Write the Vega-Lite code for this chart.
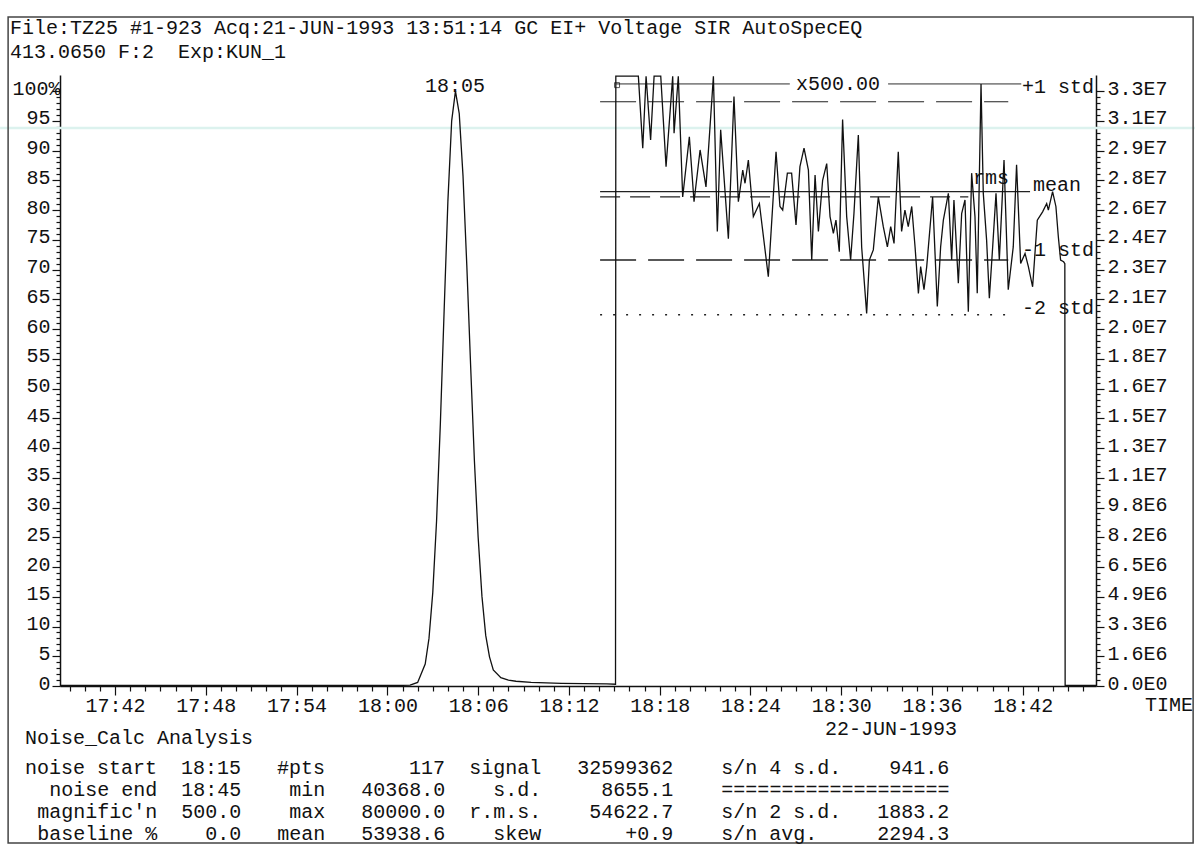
{
  "$schema": "https://vega.github.io/schema/vega-lite/v6.json",
  "width": 1036,
  "height": 611,
  "autosize": {"type": "none"},
  "padding": {"left": 60, "top": 75, "right": 99, "bottom": 159},
  "background": "white",
  "config": {
    "view": {"stroke": null},
    "axis": {"grid": false, "domainColor": "#111", "domainWidth": 1.5, "tickColor": "#111", "tickWidth": 1.2, "labelFont": "Liberation Mono", "labelFontSize": 20, "labelColor": "#111", "labelOverlap": false, "labelFlush": false, "labelBound": false}
  },
  "datasets": {
    "trace": [
      {"t": 1058.4, "v": 0.1}, {"t": 1070, "v": 0.1}, {"t": 1081, "v": 0.1}, {"t": 1081.5, "v": 0.15}, {"t": 1082, "v": 0.6}, {"t": 1082.5, "v": 3.7}, {"t": 1082.75, "v": 8.0}, {"t": 1083, "v": 15.7}, {"t": 1083.25, "v": 27.7}, {"t": 1083.5, "v": 44}, {"t": 1083.75, "v": 63}, {"t": 1084, "v": 81.5}, {"t": 1084.25, "v": 95}, {"t": 1084.5, "v": 100}, {"t": 1084.75, "v": 96.2}, {"t": 1085, "v": 85.7}, {"t": 1085.25, "v": 70.7}, {"t": 1085.5, "v": 54}, {"t": 1085.75, "v": 38}, {"t": 1086, "v": 25}, {"t": 1086.25, "v": 15.1}, {"t": 1086.5, "v": 8.5}, {"t": 1086.75, "v": 4.9}, {"t": 1087, "v": 2.7}, {"t": 1087.5, "v": 1.4}, {"t": 1088, "v": 1.0}, {"t": 1088.5, "v": 0.8}, {"t": 1089.5, "v": 0.6}, {"t": 1091.5, "v": 0.45}, {"t": 1094.5, "v": 0.35}, {"t": 1095.08, "v": 0.3},
      {"t": 1095.1, "v": 102.5}, {"t": 1096.59, "v": 102.5}, {"t": 1096.88, "v": 90.4}, {"t": 1097.1, "v": 102.5}, {"t": 1097.4, "v": 91.8}, {"t": 1097.63, "v": 102.5}, {"t": 1098.07, "v": 102.5}, {"t": 1098.42, "v": 87.3}, {"t": 1098.86, "v": 102.5}, {"t": 1098.95, "v": 92.9}, {"t": 1099.23, "v": 102.5}, {"t": 1099.52, "v": 82.2}, {"t": 1099.96, "v": 92.3}, {"t": 1100.27, "v": 81.4}, {"t": 1100.67, "v": 90.1}, {"t": 1101.06, "v": 83.9}, {"t": 1101.55, "v": 102.5}, {"t": 1101.81, "v": 76.4}, {"t": 1102.03, "v": 93.5}, {"t": 1102.54, "v": 75.2}, {"t": 1102.91, "v": 99.1}, {"t": 1103.2, "v": 81.4}, {"t": 1103.49, "v": 86.7}, {"t": 1103.64, "v": 84.5}, {"t": 1103.86, "v": 88.4}, {"t": 1104.19, "v": 78.9}, {"t": 1104.59, "v": 81.1}, {"t": 1105.18, "v": 68.8}, {"t": 1105.69, "v": 89.8}, {"t": 1105.95, "v": 80.6}, {"t": 1106.13, "v": 80.0}, {"t": 1106.44, "v": 86.2}, {"t": 1106.72, "v": 86.2}, {"t": 1107.01, "v": 77.5}, {"t": 1107.27, "v": 87.3}, {"t": 1107.54, "v": 90.4}, {"t": 1107.83, "v": 86.7}, {"t": 1108.05, "v": 71.6}, {"t": 1108.27, "v": 85.9}, {"t": 1108.49, "v": 76.4}, {"t": 1108.77, "v": 85.0}, {"t": 1109.04, "v": 87.8}, {"t": 1109.26, "v": 78.9}, {"t": 1109.48, "v": 76.1}, {"t": 1109.65, "v": 78.3}, {"t": 1109.87, "v": 73.0}, {"t": 1110.09, "v": 95.2}, {"t": 1110.36, "v": 78.9}, {"t": 1110.62, "v": 71.6}, {"t": 1110.84, "v": 79.4}, {"t": 1111.13, "v": 92.6}, {"t": 1111.35, "v": 73.8}, {"t": 1111.68, "v": 62.6}, {"t": 1111.86, "v": 71.6}, {"t": 1112.12, "v": 73.3}, {"t": 1112.45, "v": 82.2}, {"t": 1112.78, "v": 77.2}, {"t": 1113.05, "v": 73.8}, {"t": 1113.27, "v": 77.2}, {"t": 1113.49, "v": 74.4}, {"t": 1113.77, "v": 89.8}, {"t": 1113.99, "v": 76.4}, {"t": 1114.21, "v": 80.0}, {"t": 1114.43, "v": 77.2}, {"t": 1114.66, "v": 80.6}, {"t": 1114.88, "v": 73.8}, {"t": 1115.1, "v": 66.0}, {"t": 1115.25, "v": 70.5}, {"t": 1115.47, "v": 66.6}, {"t": 1115.65, "v": 70.5}, {"t": 1116.04, "v": 82.2}, {"t": 1116.35, "v": 63.8}, {"t": 1116.57, "v": 73.8}, {"t": 1116.75, "v": 78.3}, {"t": 1117.08, "v": 82.8}, {"t": 1117.3, "v": 71.6}, {"t": 1117.45, "v": 81.7}, {"t": 1117.74, "v": 67.7}, {"t": 1117.96, "v": 79.4}, {"t": 1118.18, "v": 81.7}, {"t": 1118.4, "v": 62.9}, {"t": 1118.62, "v": 86.2}, {"t": 1118.84, "v": 78.9}, {"t": 1118.99, "v": 66.0}, {"t": 1119.24, "v": 101.2}, {"t": 1119.39, "v": 82.8}, {"t": 1119.61, "v": 74.9}, {"t": 1119.79, "v": 65.2}, {"t": 1120.01, "v": 73.8}, {"t": 1120.23, "v": 82.8}, {"t": 1120.45, "v": 71.6}, {"t": 1120.76, "v": 88.4}, {"t": 1121.04, "v": 66.6}, {"t": 1121.37, "v": 73.8}, {"t": 1121.59, "v": 87.6}, {"t": 1121.86, "v": 71.0}, {"t": 1122.15, "v": 72.7}, {"t": 1122.37, "v": 70.5}, {"t": 1122.65, "v": 67.1}, {"t": 1122.96, "v": 78.3}, {"t": 1123.31, "v": 79.7}, {"t": 1123.58, "v": 81.1}, {"t": 1123.69, "v": 80.0}, {"t": 1123.97, "v": 83.1}, {"t": 1124.19, "v": 80.6}, {"t": 1124.35, "v": 75.5}, {"t": 1124.5, "v": 71.6}, {"t": 1124.7, "v": 71.3}, {"t": 1124.78, "v": 71.0}, {"t": 1124.8, "v": 0.1}, {"t": 1126.84, "v": 0.1}
    ],
    "stats": [
      {"stat": "x500", "t": 1095.12, "t2": 1106.6, "v": 101.2},
      {"stat": "x500", "t": 1113.1, "t2": 1121.9, "v": 101.2},
      {"stat": "+1 std", "t": 1094.06, "t2": 1121.04, "v": 98.2},
      {"stat": "mean", "t": 1094.06, "t2": 1122.48, "v": 83.1},
      {"stat": "rms", "t": 1094.06, "t2": 1118.4, "v": 82.2},
      {"stat": "-1 std", "t": 1094.06, "t2": 1121.04, "v": 71.6},
      {"stat": "-2 std", "t": 1094.06, "t2": 1120.83, "v": 62.4}
    ],
    "artifact": [{"t": 1054.4, "t2": 1133.4, "v": 93.8}],
    "frame": [{"t": 1054.93, "t2": 1133.26, "v": 112.45, "v2": -26.39}],
    "marker": [{"t": 1095.18, "v": 101.0}],
    "notes": [
      {"text": "File:TZ25 #1-923 Acq:21-JUN-1993 13:51:14 GC EI+ Voltage SIR AutoSpecEQ", "t": 1055.06, "v": 110.6},
      {"text": "413.0650 F:2\u00a0\u00a0Exp:KUN_1", "t": 1055.06, "v": 106.56},
      {"text": "18:05", "t": 1082.49, "v": 100.85},
      {"text": "x500.00", "t": 1107.01, "v": 101.19},
      {"text": "+1 std", "t": 1121.95, "v": 100.68},
      {"text": "rms", "t": 1118.71, "v": 85.39},
      {"text": "mean", "t": 1122.68, "v": 84.21},
      {"text": "-1 std", "t": 1121.95, "v": 73.28},
      {"text": "-2 std", "t": 1121.95, "v": 63.53},
      {"text": "TIME", "t": 1130.08, "v": -3.2},
      {"text": "22-JUN-1993", "t": 1108.93, "v": -7.23},
      {"text": "Noise_Calc Analysis", "t": 1056.05, "v": -8.74},
      {"text": "noise\u00a0start\u00a0\u00a018:15\u00a0\u00a0\u00a0#pts\u00a0\u00a0\u00a0\u00a0\u00a0\u00a0\u00a0117\u00a0\u00a0signal\u00a0\u00a0\u00a032599362\u00a0\u00a0\u00a0\u00a0s/n\u00a04\u00a0s.d.\u00a0\u00a0\u00a0\u00a0941.6", "t": 1056.05, "v": -13.78},
      {"text": "noise\u00a0end\u00a0\u00a018:45\u00a0\u00a0\u00a0\u00a0min\u00a0\u00a0\u00a040368.0\u00a0\u00a0\u00a0\u00a0s.d.\u00a0\u00a0\u00a0\u00a0\u00a08655.1\u00a0\u00a0\u00a0\u00a0===================", "t": 1057.65, "v": -17.48},
      {"text": "magnific'n\u00a0\u00a0500.0\u00a0\u00a0\u00a0\u00a0max\u00a0\u00a0\u00a080000.0\u00a0\u00a0r.m.s.\u00a0\u00a0\u00a0\u00a054622.7\u00a0\u00a0\u00a0\u00a0s/n\u00a02\u00a0s.d.\u00a0\u00a0\u00a01883.2", "t": 1056.85, "v": -21.18},
      {"text": "baseline\u00a0%\u00a0\u00a0\u00a0\u00a00.0\u00a0\u00a0\u00a0mean\u00a0\u00a0\u00a053938.6\u00a0\u00a0\u00a0\u00a0skew\u00a0\u00a0\u00a0\u00a0\u00a0\u00a0\u00a0+0.9\u00a0\u00a0\u00a0\u00a0s/n\u00a0avg.\u00a0\u00a0\u00a0\u00a0\u00a02294.3", "t": 1056.85, "v": -24.88}
    ],
    "rightscale": [{"r": 0}]
  },
  "layer": [
    {
      "encoding": {
        "x": {
          "field": "t", "type": "quantitative",
          "scale": {"domain": [1058.36, 1126.84], "nice": false, "zero": false},
          "axis": {
            "title": null,
            "values": [1059,1060,1061,1062,1063,1064,1065,1066,1067,1068,1069,1070,1071,1072,1073,1074,1075,1076,1077,1078,1079,1080,1081,1082,1083,1084,1085,1086,1087,1088,1089,1090,1091,1092,1093,1094,1095,1096,1097,1098,1099,1100,1101,1102,1103,1104,1105,1106,1107,1108,1109,1110,1111,1112,1113,1114,1115,1116,1117,1118,1119,1120,1121,1122,1123,1124,1125,1126],
            "labelExpr": "datum.value % 6 == 0 ? floor(datum.value / 60) + ':' + (datum.value % 60 < 10 ? '0' : '') + (datum.value % 60) : ''",
            "tickSize": {"condition": {"test": "datum.value % 6 == 0", "value": 9}, "value": 5},
            "labelPadding": 0
          }
        },
        "y": {
          "field": "v", "type": "quantitative",
          "scale": {"domain": [0, 102.7], "nice": false, "zero": false},
          "axis": {
            "title": null,
            "orient": "left",
            "values": [0,1,2,3,4,5,6,7,8,9,10,11,12,13,14,15,16,17,18,19,20,21,22,23,24,25,26,27,28,29,30,31,32,33,34,35,36,37,38,39,40,41,42,43,44,45,46,47,48,49,50,51,52,53,54,55,56,57,58,59,60,61,62,63,64,65,66,67,68,69,70,71,72,73,74,75,76,77,78,79,80,81,82,83,84,85,86,87,88,89,90,91,92,93,94,95,96,97,98,99,100],
            "labelExpr": "datum.value % 5 == 0 ? (datum.value == 100 ? '100%' : datum.value + '') : ''",
            "tickSize": {"condition": {"test": "datum.value % 5 == 0", "value": 8}, "value": 4},
            "labelPadding": {"condition": {"test": "datum.value == 100", "value": -8}, "value": 2},
            "labelOffset": -3
          }
        }
      },
      "layer": [
        {
          "data": {"name": "artifact"},
          "mark": {"type": "rule", "color": "#dcf2ee", "strokeWidth": 2.5},
          "encoding": {"x2": {"field": "t2"}}
        },
        {
          "data": {"name": "frame"},
          "mark": {"type": "rect", "filled": false, "stroke": "#444", "strokeWidth": 1.5},
          "encoding": {"x2": {"field": "t2"}, "y2": {"field": "v2"}}
        },
        {
          "data": {"name": "stats"},
          "mark": {"type": "rule", "color": "#222"},
          "encoding": {
            "x2": {"field": "t2"},
            "strokeDash": {"field": "stat", "type": "nominal", "legend": null, "scale": {"domain": ["x500", "+1 std", "mean", "rms", "-1 std", "-2 std"], "range": [[1, 0], [36, 12], [1, 0], [20, 10], [36, 12], [2, 11]]}},
            "strokeWidth": {"field": "stat", "type": "nominal", "legend": null, "scale": {"domain": ["x500", "+1 std", "mean", "rms", "-1 std", "-2 std"], "range": [1, 1.5, 1.5, 1.5, 1.5, 2.5]}}
          }
        },
        {
          "data": {"name": "trace"},
          "mark": {"type": "line", "color": "#111", "strokeWidth": 1.3},
          "encoding": {}
        },
        {
          "data": {"name": "marker"},
          "mark": {"type": "point", "shape": "square", "size": 25, "filled": false, "color": "#111", "strokeWidth": 1}
        },
        {
          "data": {"name": "notes"},
          "mark": {"type": "text", "align": "left", "baseline": "middle", "font": "Liberation Mono", "fontSize": 20, "color": "#111"},
          "encoding": {"text": {"field": "text"}}
        }
      ]
    },
    {
      "data": {"name": "rightscale"},
      "mark": {"type": "rule", "opacity": 0},
      "encoding": {
        "y": {
          "field": "r", "type": "quantitative",
          "scale": {"domain": [0, 33480200], "nice": false, "zero": false},
          "axis": {
            "title": null,
            "orient": "right",
            "values": [0,326000,652000,978000,1304000,1630000,1956000,2282000,2608000,2934000,3260000,3586000,3912000,4238000,4564000,4890000,5216000,5542000,5868000,6194000,6520000,6846000,7172000,7498000,7824000,8150000,8476000,8802000,9128000,9454000,9780000,10106000,10432000,10758000,11084000,11410000,11736000,12062000,12388000,12714000,13040000,13366000,13692000,14018000,14344000,14670000,14996000,15322000,15648000,15974000,16300000,16626000,16952000,17278000,17604000,17930000,18256000,18582000,18908000,19234000,19560000,19886000,20212000,20538000,20864000,21190000,21516000,21842000,22168000,22494000,22820000,23146000,23472000,23798000,24124000,24450000,24776000,25102000,25428000,25754000,26080000,26406000,26732000,27058000,27384000,27710000,28036000,28362000,28688000,29014000,29340000,29666000,29992000,30318000,30644000,30970000,31296000,31622000,31948000,32274000,32600000],
            "labelExpr": "datum.value % 1630000 == 0 ? replace(upper(format(datum.value, '.1e')), '+', '') : ''",
            "tickSize": {"condition": {"test": "datum.value % 1630000 == 0", "value": 8}, "value": 4},
            "labelPadding": 3,
            "labelOffset": -3
          }
        }
      }
    }
  ],
  "resolve": {"scale": {"y": "independent"}}
}
